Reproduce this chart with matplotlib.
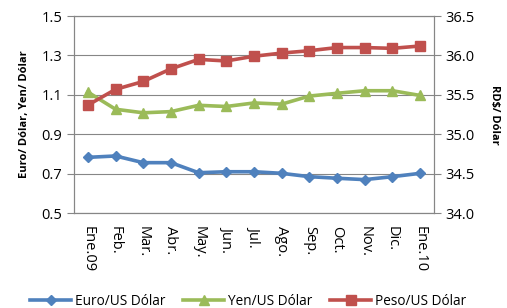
import matplotlib as mpl
mpl.use('Agg')
from matplotlib import pyplot as plt
import numpy as np

meses = ['Ene.09', 'Feb.', 'Mar.', 'Abr.', 'May.', 'Jun.', 'Jul.',
         'Ago.', 'Sep.', 'Oct.', 'Nov.', 'Dic.', 'Ene.10']
euro = [0.783, 0.790, 0.756, 0.756, 0.705, 0.710, 0.710,
        0.702, 0.685, 0.677, 0.670, 0.685, 0.702]
yen = [1.114, 1.027, 1.009, 1.015, 1.047, 1.041, 1.059,
       1.053, 1.094, 1.108, 1.121, 1.121, 1.097]
peso = [35.37, 35.57, 35.67, 35.83, 35.95, 35.93, 35.99,
        36.03, 36.06, 36.10, 36.10, 36.09, 36.12]

plt.rcParams['font.family'] = ['Open Sans', 'DejaVu Sans']
grey = '#868686'

fig = plt.figure(figsize=(5.07, 3.08), dpi=100)
ax = fig.add_axes([0.146, 0.308, 0.710, 0.640])
ax2 = ax.twinx()

x = np.arange(len(meses))
l1, = ax.plot(x, euro, color='#4F81BD', lw=2.6, marker='D', ms=5, label='Euro/US Dólar')
l2, = ax.plot(x, yen, color='#9BBB59', lw=2.6, marker='^', ms=7, label='Yen/US Dólar')
l3, = ax2.plot(x, peso, color='#C0504D', lw=2.6, marker='s', ms=6.5, label='Peso/US Dólar')

ax.set_xlim(-0.5, 12.5)
ax.set_ylim(0.5, 1.5)
ax.set_yticks(np.arange(0.5, 1.51, 0.2))
ax.set_yticklabels(['%.1f' % v for v in np.arange(0.5, 1.51, 0.2)])
ax2.set_ylim(34.0, 36.5)
ax2.set_yticks(np.arange(34.0, 36.51, 0.5))
ax2.set_yticklabels(['%.1f' % v for v in np.arange(34.0, 36.51, 0.5)])

ax.set_xticks(x)
ax.set_xticklabels(meses, rotation=270, fontsize=10.5)
ax.tick_params(axis='x', length=0, pad=9)
ax.tick_params(axis='y', labelsize=10.5, length=5, color=grey, width=0.8)
ax2.tick_params(axis='y', labelsize=10.5, length=5, color=grey, width=0.8)

ax.yaxis.grid(True, color=grey, lw=0.8)
ax.set_axisbelow(True)
for a in (ax, ax2):
    for s in a.spines.values():
        s.set_color(grey)
        s.set_linewidth(0.8)

ax.set_ylabel('Euro/ Dólar, Yen/ Dólar', fontsize=8, fontweight='bold', labelpad=8)
ax2.set_ylabel('RD\\$/ Dólar', fontsize=8, fontweight='bold', rotation=270, labelpad=18)

fig.legend([l1, l2, l3], [l1.get_label(), l2.get_label(), l3.get_label()],
           loc='center', bbox_to_anchor=(0.49, 0.022), ncol=3, frameon=False,
           fontsize=9.8, handlelength=3.0, columnspacing=1.3, handletextpad=0.3)

fig.savefig('out.png', dpi=100)
